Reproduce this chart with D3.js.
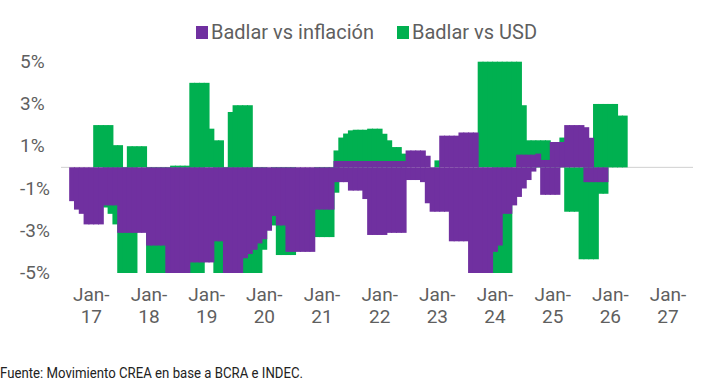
<!DOCTYPE html>
<html>
<head>
<meta charset="utf-8">
<script src="https://cdn.jsdelivr.net/npm/d3@7"></script>
<style>
  body { margin: 0; background: #fff; }
  svg text { font-family: Roboto, "Noto Sans", sans-serif; fill: #5f5f5f; }
</style>
</head>
<body>
<svg width="708" height="383"></svg>
<script>
// monthly data, Sep-16 .. Apr-26 (index 0 = Sep-16)
var firstMonth = -4;   // months counted from Jan-17

// Badlar vs inflación (upper / lower reach of the monthly bars)
var inflHi = [
  0, 0, 0, 0,
  0, 0, 0, 0, 0, 0, 0, 0, 0, 0, 0, 0,
  0, 0, 0, 0, 0, 0, 0, 0, 0, 0, 0, 0,
  0, 0, 0, 0, 0, 0, 0, 0, 0, 0, 0, 0,
  0, 0, 0, 0, 0, 0, 0, 0, 0, 0, 0, 0,
  0, 0, 0, 0.3, 0.3, 0.3, 0.3, 0.3, 0.3, 0.3, 0.3, 0.3,
  0.3, 0.3, 0.3, 0.3, 0.3, 0.3, 0.8, 0.8, 0.8, 0.8, 0.55, 0,
  0, 1.5, 1.5, 1.5, 1.5, 1.65, 1.65, 1.65, 1.65, 0, 0, 0,
  0, 0, 0, 0, 0, 0.6, 0.6, 0.6, 0.6, 0.65, 0.35, 0.35,
  1.2, 1.2, 1.2, 2.0, 2.0, 2.0, 2.0, 1.9, 1.4, 0, 0, 0,
  null, null, null, null
];
var inflLo = [
  -1.6, -2.0, -2.2, -2.7,
  -2.7, -2.7, -2.7, -1.8, -1.8, -1.8, -3.1, -3.1, -3.1, -3.1, -3.1, -3.1,
  -3.7, -3.7, -3.7, -3.7, -5, -5, -5, -5, -5, -4.5, -4.5, -4.5,
  -4.5, -4.5, -3.5, -3.5, -5, -5, -5, -5, -4.3, -4.1, -3.9, -3.6,
  -3.4, -3.0, -2.3, -2.75, -2.75, -4.0, -4.0, -4.0, -4.0, -4.0, -4.0, -2.0,
  -2.0, -2.0, -2.0, -0.7, -0.7, -0.7, -1.1, -1.1, -1.1, -1.5, -3.2, -3.2,
  -3.2, -3.2, -3.1, -3.1, -3.1, -3.1, -0.6, -0.6, -0.6, -0.7, -1.7, -2.1,
  -2.1, -2.1, -2.1, -3.5, -3.5, -3.5, -3.5, -5, -5, -5, -5, -5,
  -4.0, -3.7, -2.2, -2.2, -1.8, -1.4, -1.0, -0.6, -0.2, 0, -1.3, -1.3,
  -1.3, -1.3, 0, 0, 0, 0, 0, -0.7, -0.7, -0.7, -0.7, -0.7,
  null, null, null, null
];

// Badlar vs USD
var usdHi = [
  0, 0, 0, 0,
  0, 2.0, 2.0, 2.0, 2.0, 1.05, 1.05, 0, 1.0, 1.0, 1.0, 1.0,
  0, 0, 0, 0, 0, 0.08, 0.08, 0.08, 0.08, 4.0, 4.0, 4.0,
  4.0, 1.83, 1.28, 1.28, 0, 2.62, 2.94, 2.94, 2.94, 2.94, 0, 0,
  0, 0, 0, 0, 0, 0, 0, 0, 0, 0, 0, 0,
  0, 0, 0, 0.8, 1.41, 1.6, 1.75, 1.78, 1.78, 1.78, 1.83, 1.83,
  1.83, 1.59, 1.28, 0.96, 0.96, 0.65, 0, 0, 0, 0, 0, 0,
  0.33, 0, 0, 0, 0, 0, 0, 0, 0, 5, 5, 5,
  5, 5, 5, 5, 5, 5, 2.94, 1.28, 1.28, 1.28, 1.28, 1.28,
  1.0, 1.0, 1.41, 0, 0, 0, 0, 0, 0, 3.0, 3.0, 3.0,
  3.0, 3.0, 2.45, 2.45
];
var usdLo = [
  0, 0, 0, 0,
  0, 0, 0, -1.9, -2.2, -2.7, -5, -5, -5, -5, 0, 0,
  -5, -5, -5, -5, -5, -5, -5, -5, -5, -5, -5, -5,
  0, 0, -5, -5, -5, -5, -5, -5, -5, -5, -5, -5,
  -3.9, 0, -2.75, -4.15, -4.15, -4.15, -4.15, 0, 0, 0, 0, -3.3,
  -3.3, -3.3, -3.3, -1.2, 0, 0, 0, 0, 0, 0, 0, 0,
  0, 0, 0, 0, 0, 0, 0, 0, 0, 0, 0, 0,
  0, 0, 0, 0, 0, 0, 0, 0, 0, 0, 0, 0,
  -5, -5, -5, -5, 0, 0, 0, 0, 0, 0, 0, 0,
  0, 0, 0, -2.1, -2.1, -2.1, -4.35, -4.35, -4.35, -4.35, -1.25, -1.25,
  0, 0, 0, 0
];

var seriesNames = ["Badlar vs inflación", "Badlar vs USD"];
var seriesColors = ["#7030a0", "#00b050"];
var yTicks = [5, 3, 1, -1, -3, -5];
var xLabels = ["Jan-17", "Jan-18", "Jan-19", "Jan-20", "Jan-21", "Jan-22",
               "Jan-23", "Jan-24", "Jan-25", "Jan-26", "Jan-27"];
var source = "Fuente: Movimiento CREA en base a BCRA e INDEC.";

var svg = d3.select("svg");

// scales (month index from Jan-17)
var x = d3.scaleLinear().domain([-6.2, 125.3]).range([61, 693]);
var y = d3.scaleLinear().domain([-5, 5]).range([273, 61.7]);

// turn the arrays into bar records
function bars(vals) {
  var out = [];
  vals.forEach(function(v, i) {
    if (v === null || v === 0) return;
    out.push({ m: firstMonth + i, v: v });
  });
  return out;
}

function drawBars(data, colour) {
  svg.append("g")
    .selectAll("rect")
    .data(data)
    .enter()
    .append("rect")
      .attr("x", d => x(d.m - 0.5))
      // a little overlap with the next month so no hairline shows between bars
      .attr("width", d => x(d.m + 0.5) - x(d.m - 0.5) + 1)
      .attr("y", d => y(Math.max(d.v, 0)))
      .attr("height", d => Math.abs(y(d.v) - y(0)))
      .attr("fill", colour);
}

// zero line
svg.append("line")
  .attr("x1", x.range()[0]).attr("x2", x.range()[1])
  .attr("y1", y(0)).attr("y2", y(0))
  .attr("stroke", "#d0d0d0");

// green first, purple drawn over it
drawBars(bars(usdHi).concat(bars(usdLo)), seriesColors[1]);
drawBars(bars(inflHi).concat(bars(inflLo)), seriesColors[0]);

// y axis
var yAxis = svg.append("g")
  .call(d3.axisLeft(y).tickValues(yTicks).tickSize(0).tickFormat(d => d + "%"));
yAxis.select(".domain").remove();
yAxis.selectAll("text")
  .attr("x", 20)
  .attr("dy", "0.3em")
  .attr("text-anchor", "start")
  .attr("font-size", 19)
  .attr("font-family", null);

// x axis, two-line labels
var xAxis = svg.append("g")
  .attr("transform", "translate(0,284)")
  .call(d3.axisBottom(x)
    .tickValues(xLabels.map((d, i) => i * 12))
    .tickSize(0)
    .tickFormat((d, i) => xLabels[i]));
xAxis.select(".domain").remove();
xAxis.selectAll("text")
  .attr("font-size", 19)
  .attr("font-family", null)
  .attr("y", 0)
  .attr("dy", null)
  .text(null)
  .each(function(d, i) {
    var parts = xLabels[i].split("-");
    var t = d3.select(this);
    t.append("tspan").attr("x", 0).attr("y", 17).text(parts[0] + "-");
    t.append("tspan").attr("x", 0).attr("y", 39).text(parts[1]);
  });

// legend
var legend = svg.append("g");
var legX = [196, 397];
seriesNames.forEach(function(name, i) {
  legend.append("rect")
    .attr("x", legX[i]).attr("y", 26)
    .attr("width", 12).attr("height", 13)
    .attr("fill", seriesColors[i]);
  legend.append("text")
    .attr("x", legX[i] + 15).attr("y", 39)
    .attr("font-size", 20)
    .text(name);
});

// source note
svg.append("text")
  .attr("x", 0).attr("y", 378)
  .attr("font-size", 15)
  .attr("textLength", 303)
  .attr("lengthAdjust", "spacingAndGlyphs")
  .style("fill", "#222")
  .text(source);
</script>
</body>
</html>
